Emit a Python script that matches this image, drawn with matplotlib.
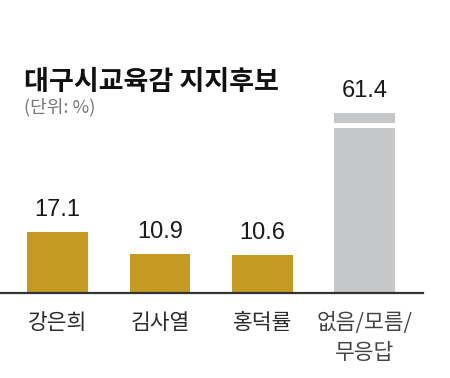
import matplotlib
matplotlib.use("Agg")
import matplotlib.pyplot as plt

plt.rcParams['font.family'] = ['Noto Sans CJK KR', 'DejaVu Sans']

# data
candidates = ['강은희', '김사열', '홍덕률', '없음/모름/\n무응답']
support = [17.1, 10.9, 10.6, 61.4]
bar_colors = ['#C49A22', '#C49A22', '#C49A22', '#C6C7C9']
title = '대구시교육감 지지후보'
unit_note = '(단위: %)'

# the tallest bar is drawn cut short with a break
cap = 50.4
gap_lo, gap_hi = 46.2, 47.6

fig = plt.figure(figsize=(4.5, 3.78), dpi=100)
ax = fig.add_axes([0.0, 0.2249, 0.94, 0.7751])

x = list(range(len(candidates)))
shown = [min(v, cap) for v in support]
ax.bar(x, shown, width=0.595, color=bar_colors, zorder=2)

# break in the cut bar
for i, v in enumerate(support):
    if v > cap:
        ax.bar(i, gap_hi - gap_lo, bottom=gap_lo, width=0.7, color='white', zorder=3)

for i, v in enumerate(support):
    ax.annotate(f'{v:.1f}', (i, shown[i]), xytext=(0, 8), textcoords='offset points',
                ha='center', va='bottom', fontsize=17, color='#1a1a1a',
                family=['Liberation Sans Narrow', 'Liberation Sans', 'DejaVu Sans'])

ax.set_xlim(-0.561, 3.566)
ax.set_ylim(0, 82.07)
ax.set_xticks(x)
ax.set_xticklabels(candidates, fontsize=15.5, color='#2a2a2a', linespacing=1.45)
ax.tick_params(axis='x', length=0, pad=14)
ax.set_yticks([])
for s in ['top', 'right', 'left']:
    ax.spines[s].set_visible(False)
ax.spines['bottom'].set_color('#333333')
ax.spines['bottom'].set_linewidth(1.6)
ax.get_xticklabels()[3].set_color('#444444')

fig.text(24 / 450, 1 - 68 / 378, title, fontsize=19.5, fontweight='bold',
         va='top', ha='left', color='#111111')
fig.text(24 / 450, 1 - 98 / 378, unit_note, fontsize=13, color='#777777',
         va='top', ha='left')

fig.savefig('out.png', dpi=100, facecolor='white')
